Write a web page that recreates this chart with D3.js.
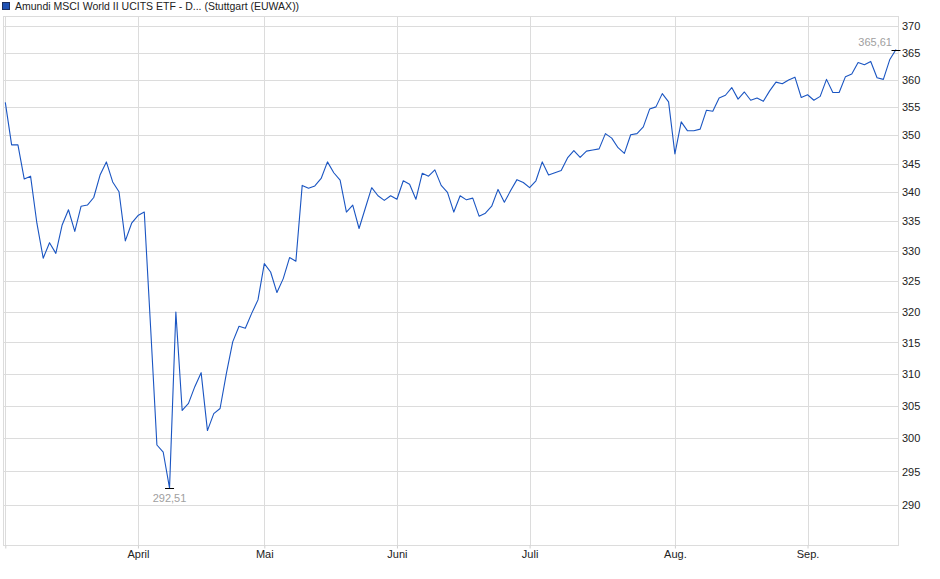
<!DOCTYPE html>
<html>
<head>
<meta charset="utf-8">
<script src="https://cdn.jsdelivr.net/npm/d3@7"></script>
<style>
	body { margin: 0; background: #fff; }
	text { font-family: "Liberation Sans", Arial, sans-serif; }
</style>
</head>
<body>
<div id="chart"></div>
<script>
// closing prices, one per trading day (Stuttgart), 3 Mar 2025 - 19 Sep 2025
const closes = [
	355.9, 348.3, 348.3, 342.3, 342.8, 334.7, 328.8, 331.4, 329.6, 334.4,
	337.0, 333.3, 337.6, 337.8, 339.1, 343.0, 345.3, 341.8, 340.1, 331.7,
	334.7, 336.0, 336.6, 317.5, 299.0, 297.9, 292.51, 319.9, 304.3, 305.4,
	308.0, 310.2, 301.2, 303.8, 304.6, 310.1, 315.1, 317.6, 317.3, 319.7,
	321.9, 327.9, 326.5, 323.1, 325.4, 328.9, 328.3, 341.2, 340.7, 341.1,
	342.4, 345.3, 343.4, 342.1, 336.6, 337.8, 333.8, 337.3, 340.8, 339.4,
	338.6, 339.4, 338.8, 342.0, 341.4, 338.8, 343.3, 342.8, 343.9, 341.2,
	340.0, 336.6, 339.4, 338.7, 339.0, 335.9, 336.4, 337.6, 340.5, 338.3,
	340.3, 342.2, 341.7, 340.8, 342.0, 345.3, 343.0, 343.4, 343.8, 346.0,
	347.3, 346.1, 347.2, 347.4, 347.6, 350.3, 349.5, 347.8, 346.8, 350.1,
	350.3, 351.5, 354.7, 355.1, 357.5, 356.0, 346.7, 352.4, 350.8, 350.8,
	351.1, 354.5, 354.3, 356.7, 357.2, 358.6, 356.5, 357.8, 356.3, 356.7,
	356.1, 358.0, 359.6, 359.3, 360.0, 360.5, 356.8, 357.3, 356.3, 357.0,
	360.1, 357.7, 357.7, 360.6, 361.1, 363.2, 362.8, 363.4, 360.4, 360.1,
	363.7, 365.61
];

const holidays = ['2025-04-18', '2025-04-21', '2025-05-01'];
const monthLabels = ['', 'April', 'Mai', 'Juni', 'Juli', 'Aug.', 'Sep.'];
const yTicks = [290, 295, 300, 305, 310, 315, 320, 325, 330, 335, 340, 345, 350, 355, 360, 365, 370];
const seriesName = 'Amundi MSCI World II UCITS ETF - D... (Stuttgart (EUWAX))';

const dayKey = d3.timeFormat('%Y-%m-%d');
const tradingDays = d3.timeDay
	.range(new Date(2025, 2, 3), new Date(2025, 8, 20))
	.filter((d) => d.getDay() % 6 !== 0 && !holidays.includes(dayKey(d)));

const data = closes.map((v, i) => ({ i: i, date: tradingDays[i], value: v }));

// first trading day of every month
const monthStarts = data
	.filter((d, i) => i === 0 || d.date.getMonth() !== data[i - 1].date.getMonth())
	.map((d) => d.i);

const W = 940, H = 579;
const plotLeft = 3, plotRight = 898, plotTop = 16.5, plotBottom = 545.5;

const svg = d3.select('#chart')
	.append('svg')
	.attr('width', W)
	.attr('height', H);

const x = d3.scaleLinear()
	.domain([0, closes.length - 1])
	.range([5.3, 896]);

const y = d3.scaleLog()
	.domain([284.1, 371.8])
	.range([plotBottom, plotTop]);

// grid
const grid = svg.append('g')
	.attr('stroke', '#dcdcdc')
	.attr('stroke-width', 1)
	.attr('shape-rendering', 'crispEdges');

grid.selectAll('.hgrid')
	.data(yTicks)
	.enter()
	.append('line')
	.attr('x1', plotLeft)
	.attr('x2', plotRight)
	.attr('y1', (d) => Math.round(y(d)) + 0.5)
	.attr('y2', (d) => Math.round(y(d)) + 0.5);

grid.selectAll('.vgrid')
	.data(monthStarts)
	.enter()
	.append('line')
	.attr('x1', (d) => Math.round(x(d)) + 0.5)
	.attr('x2', (d) => Math.round(x(d)) + 0.5)
	.attr('y1', plotTop)
	.attr('y2', plotBottom);

grid.append('rect')
	.attr('x', plotLeft + 0.5)
	.attr('y', plotTop)
	.attr('width', plotRight - plotLeft)
	.attr('height', plotBottom - plotTop)
	.attr('fill', 'none');

// axes
const yAxis = svg.append('g')
	.attr('transform', 'translate(' + (plotRight + 1) + ',0)')
	.call(
		d3.axisRight(y)
			.tickValues(yTicks)
			.tickSize(0)
			.tickPadding(3)
			.tickFormat(d3.format('d'))
	);
yAxis.select('.domain').remove();
yAxis.selectAll('text')
	.attr('font-size', 11)
	.attr('fill', '#222')
	.style('font-family', '"Liberation Sans", Arial, sans-serif');

const xAxis = svg.append('g')
	.attr('transform', 'translate(0,' + plotBottom + ')')
	.call(
		d3.axisBottom(x)
			.tickValues(monthStarts)
			.tickSize(3)
			.tickPadding(2)
			.tickFormat((d, k) => monthLabels[k])
	);
xAxis.select('.domain').remove();
xAxis.selectAll('.tick line').attr('stroke', '#cfcfcf');
xAxis.selectAll('text')
	.attr('font-size', 11)
	.attr('fill', '#222')
	.style('font-family', '"Liberation Sans", Arial, sans-serif');

// price line
const line = d3.line()
	.x((d) => x(d.i))
	.y((d) => y(d.value));

svg.append('path')
	.datum(data)
	.attr('fill', 'none')
	.attr('stroke', '#1a55c2')
	.attr('stroke-width', 1.1)
	.attr('stroke-linejoin', 'round')
	.attr('d', line);

// min / max markers
const lo = data.reduce((a, b) => (b.value < a.value ? b : a));
const hi = data.reduce((a, b) => (b.value > a.value ? b : a));
const fmtDe = (v) => d3.format('.2f')(v).replace('.', ',');

[lo, hi].forEach((p) => {
	svg.append('line')
		.attr('x1', x(p.i) - 4.5)
		.attr('x2', x(p.i) + 4.5)
		.attr('y1', Math.round(y(p.value)) + 0.5)
		.attr('y2', Math.round(y(p.value)) + 0.5)
		.attr('stroke', '#000')
		.attr('stroke-width', 1);
});

svg.append('text')
	.attr('x', x(lo.i))
	.attr('y', y(lo.value) + 14)
	.attr('text-anchor', 'middle')
	.attr('font-size', 11)
	.attr('fill', '#a0a0a0')
	.text(fmtDe(lo.value));

svg.append('text')
	.attr('x', x(hi.i) - 4)
	.attr('y', y(hi.value) - 4)
	.attr('text-anchor', 'end')
	.attr('font-size', 11)
	.attr('fill', '#a0a0a0')
	.text(fmtDe(hi.value));

// legend
const legend = svg.append('g');

legend.append('rect')
	.attr('x', 2.5)
	.attr('y', 2.5)
	.attr('width', 7)
	.attr('height', 7)
	.attr('fill', '#1f52b4')
	.attr('stroke', '#1b2f5e');

legend.append('text')
	.attr('x', 15)
	.attr('y', 10)
	.attr('font-size', 10.5)
	.attr('fill', '#222')
	.text(seriesName);
</script>
</body>
</html>
